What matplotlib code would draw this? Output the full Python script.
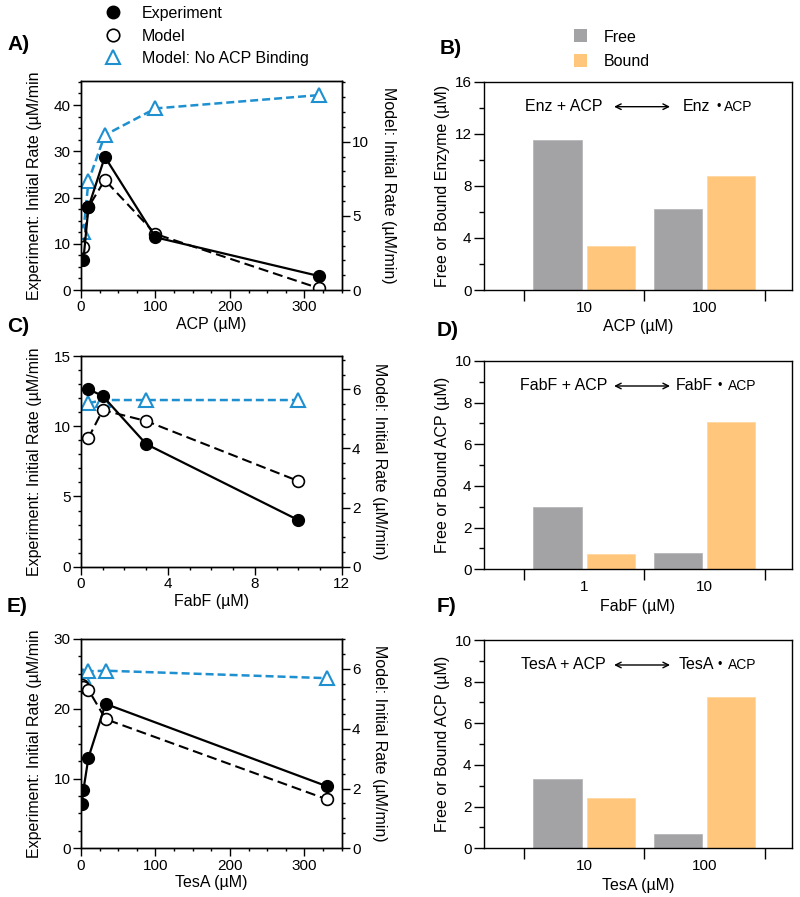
import matplotlib
matplotlib.use('Agg')
import matplotlib.pyplot as plt
from matplotlib.lines import Line2D
from matplotlib.patches import Patch
from matplotlib.ticker import MultipleLocator, FixedLocator, NullFormatter

plt.rcParams['font.family'] = ['Liberation Sans', 'DejaVu Sans']

# ---------------- data ----------------
# Panel A: ACP titration
acp_conc = [3.2, 10, 32, 100, 320]
acp_exp = [6.5, 17.9, 28.8, 11.4, 3.0]
acp_model = [2.88, 5.6, 7.42, 3.78, 0.11]
acp_nobind = [3.93, 7.35, 10.45, 12.25, 13.15]

# Panel C: FabF titration
fabf_conc = [0.33, 1, 3, 10]
fabf_exp = [12.65, 12.15, 8.73, 3.32]
fabf_model = [4.34, 5.30, 4.93, 2.90]
fabf_nobind = [5.53, 5.64, 5.64, 5.64]

# Panel E: TesA titration
tesa_conc = [1, 3.3, 10, 33, 330]
tesa_exp = [6.3, 8.4, 13.0, 20.7, 8.9]
tesa_model = [5.45, 5.4, 5.3, 4.32, 1.64]
tesa_nobind = [5.5, 5.75, 5.92, 5.94, 5.69]

# Panel B
b_cats = ['10', '100']
b_free = [11.5, 6.2]
b_bound = [3.38, 8.72]
# Panel D
d_cats = ['1', '10']
d_free = [3.0, 0.8]
d_bound = [0.74, 7.09]
# Panel F
f_cats = ['10', '100']
f_free = [3.31, 0.67]
f_bound = [2.4, 7.25]

BLUE = '#1e90d0'
GRAY = '#a3a3a6'
ORANGE = '#ffc67c'

FS_TICK = 11
FS_LAB = 11.5

W, H = 800, 897
fig = plt.figure(figsize=(W / 100, H / 100), dpi=100)


def fr(left, top, right, bottom):
    return [left / W, 1 - bottom / H, (right - left) / W, (bottom - top) / H]


def style_axis(ax):
    for s in ax.spines.values():
        s.set_linewidth(1.0)
    ax.tick_params(which='both', direction='out', width=1.0, labelsize=FS_TICK, pad=2)
    ax.tick_params(which='major', length=5.5)
    ax.tick_params(which='minor', length=2.5)


def line_panel(rect, x, exp, model, nobind, xlim, xmaj, xmin, ylim, ymaj, ymin,
               y2lim, y2maj, y2min, xlabel):
    ax = fig.add_axes(rect)
    ax2 = ax.twinx()
    ax2.plot(x, nobind, ls=(0, (3.2, 1.6)), color=BLUE, lw=1.8, marker='^', ms=9.5,
             mfc='white', mec=BLUE, mew=1.5)
    ax2.plot(x, model, ls=(0, (4.8, 2.4)), color='black', lw=1.5, marker='o', ms=8.5,
             mfc='white', mec='black', mew=1.2)
    ax.plot(x, exp, '-', color='black', lw=1.6, marker='o', ms=8.5, mfc='black', mec='black')
    ax.set_zorder(ax2.get_zorder() + 1)
    ax.patch.set_visible(False)
    ax.set_xlim(*xlim)
    ax.set_ylim(*ylim)
    ax2.set_ylim(*y2lim)
    ax.xaxis.set_major_locator(MultipleLocator(xmaj))
    ax.xaxis.set_minor_locator(MultipleLocator(xmin))
    ax.yaxis.set_major_locator(MultipleLocator(ymaj))
    ax.yaxis.set_minor_locator(MultipleLocator(ymin))
    ax2.yaxis.set_major_locator(MultipleLocator(y2maj))
    ax2.yaxis.set_minor_locator(MultipleLocator(y2min))
    style_axis(ax)
    style_axis(ax2)
    ax.tick_params(which='both', top=False, right=False)
    ax2.tick_params(which='both', left=False, top=False, right=True)
    ax.set_xlabel(xlabel, fontsize=FS_LAB, labelpad=2)
    ax.set_ylabel('Experiment: Initial Rate (µM/min', fontsize=FS_LAB, labelpad=8)
    ax2.set_ylabel('Model: Initial Rate (µM/min)', fontsize=FS_LAB, rotation=270, labelpad=19)
    return ax, ax2


def bar_panel(rect, cats, free, bound, ylim, ymaj, ymin, ylabel, xlabel, name):
    ax = fig.add_axes(rect)
    idx = list(range(len(cats)))
    ax.bar([i - 0.22 for i in idx], free, width=0.4, color=GRAY, edgecolor='#b8b8ba', lw=0.6)
    ax.bar([i + 0.22 for i in idx], bound, width=0.4, color=ORANGE, edgecolor='#ffd7a0', lw=0.6)
    ax.set_xlim(-0.83, 1.72)
    ax.set_ylim(*ylim)
    ax.xaxis.set_major_locator(FixedLocator([-0.5, 0.5, 1.5]))
    ax.xaxis.set_major_formatter(NullFormatter())
    ax.set_xticks(idx, labels=cats, minor=True)
    ax.yaxis.set_major_locator(MultipleLocator(ymaj))
    ax.yaxis.set_minor_locator(MultipleLocator(ymin))
    style_axis(ax)
    ax.tick_params(axis='x', which='major', length=8)
    ax.tick_params(axis='x', which='minor', length=0, pad=8)
    ax.tick_params(axis='y', which='major', length=7)
    ax.tick_params(axis='y', which='minor', length=3.5)
    ax.set_xlabel(xlabel, fontsize=FS_LAB, labelpad=3)
    ax.set_ylabel(ylabel, fontsize=FS_LAB, labelpad=3)
    ty = 0.88
    ax.text(0.258, ty, f'{name} + ACP', transform=ax.transAxes, ha='center', va='center',
            fontsize=11.5)
    ax.annotate('', xy=(0.605, ty), xytext=(0.423, ty), xycoords='axes fraction',
                arrowprops=dict(arrowstyle='<->', lw=1.0, color='black',
                                shrinkA=0, shrinkB=0, mutation_scale=10))
    x_name = {'Enz': 0.647, 'FabF': 0.622, 'TesA': 0.632}[name]
    ax.text(x_name, ty, name, transform=ax.transAxes, ha='left', va='center', fontsize=11.5)
    ax.text(0.762 if name == 'Enz' else 0.765, ty, '•', transform=ax.transAxes,
            ha='center', va='center', fontsize=9)
    ax.text(0.782 if name == 'Enz' else 0.792, ty, 'ACP', transform=ax.transAxes, ha='left',
            va='center', fontsize=10)
    return ax


axA, axA2 = line_panel(fr(81, 81, 341.7, 290), acp_conc, acp_exp, acp_model, acp_nobind,
                       (0, 350), 100, 25, (0, 45.2), 10, 2.5, (0, 14.1), 5, 1, 'ACP (µM)')
axC, axC2 = line_panel(fr(81, 356, 341.7, 566.7), fabf_conc, fabf_exp, fabf_model, fabf_nobind,
                       (0, 12), 4, 1, (0, 15), 5, 1, (0, 7.13), 2, 0.5, 'FabF (µM)')
axE, axE2 = line_panel(fr(81, 639, 341.7, 848.3), tesa_conc, tesa_exp, tesa_model, tesa_nobind,
                       (0, 350), 100, 25, (0, 30), 10, 2.5, (0, 7.0), 2, 0.5, 'TesA (µM)')

axB = bar_panel(fr(484, 81.7, 791.5, 290), b_cats, b_free, b_bound, (0, 16), 4, 2,
                'Free or Bound Enzyme (µM)', 'ACP (µM)', 'Enz')
axD = bar_panel(fr(484, 361, 791.5, 569.3), d_cats, d_free, d_bound, (0, 10), 2, 1,
                'Free or Bound ACP (µM)', 'FabF (µM)', 'FabF')
axF = bar_panel(fr(484, 640, 791.5, 848.3), f_cats, f_free, f_bound, (0, 10), 2, 1,
                'Free or Bound ACP (µM)', 'TesA (µM)', 'TesA')

# legends
h_line = [Line2D([], [], ls='none', marker='o', ms=9, mfc='black', mec='black'),
          Line2D([], [], ls='none', marker='o', ms=9, mfc='white', mec='black', mew=1.2),
          Line2D([], [], ls='none', marker='^', ms=10, mfc='white', mec=BLUE, mew=1.5)]
fig.legend(h_line, ['Experiment', 'Model', 'Model: No ACP Binding'], loc='upper left',
           bbox_to_anchor=(100.8 / W, 1 - 6 / H), frameon=False, fontsize=11.5,
           handlelength=1.55, handletextpad=1.0, labelspacing=0.47, borderpad=0,
           borderaxespad=0)
h_bar = [Patch(facecolor=GRAY, edgecolor='none'), Patch(facecolor=ORANGE, edgecolor='none')]
fig.legend(h_bar, ['Free', 'Bound'], loc='upper left',
           bbox_to_anchor=(573.5 / W, 1 - 29.5 / H), frameon=False, fontsize=11.5,
           handlelength=0.85, handleheight=0.875, handletextpad=1.05, labelspacing=0.6,
           borderpad=0, borderaxespad=0)

# panel letters
for lab, x, y in [('A)', 7, 45), ('B)', 440, 48), ('C)', 7, 327), ('D)', 437, 330),
                  ('E)', 7, 607), ('F)', 437, 606)]:
    fig.text(x / W, 1 - y / H, lab, fontsize=15, fontweight='bold', va='center', ha='left')

fig.savefig('out.png', dpi=100)
